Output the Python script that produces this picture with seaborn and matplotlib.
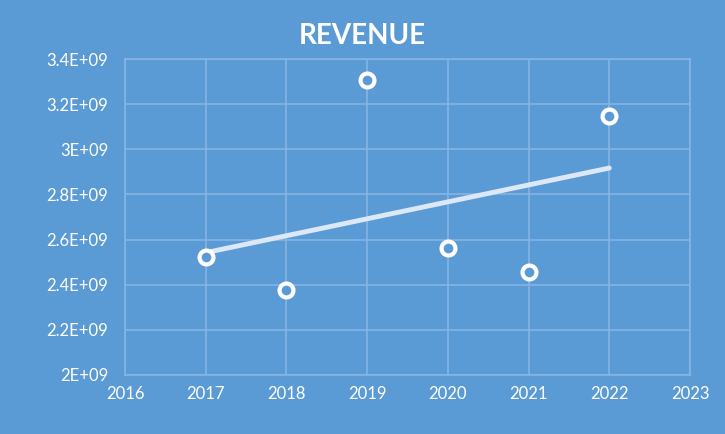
import matplotlib
matplotlib.use("Agg")
import matplotlib.pyplot as plt
import seaborn as sns
import numpy as np
import pandas as pd
from matplotlib.ticker import FuncFormatter

years = [2017, 2018, 2019, 2020, 2021, 2022]
revenue = [2.523e9, 2.377e9, 3.308e9, 2.563e9, 2.457e9, 3.149e9]
x_ticks = [2016, 2017, 2018, 2019, 2020, 2021, 2022, 2023]
y_ticks = [2.0e9, 2.2e9, 2.4e9, 2.6e9, 2.8e9, 3.0e9, 3.2e9, 3.4e9]
title = "REVENUE"

df = pd.DataFrame({"year": years, "revenue": revenue})

bg = "#5B9BD5"
grid_c = "#85B5E4"
sns.set_theme(style="white")
plt.rcParams["font.family"] = ["Lato", "DejaVu Sans"]

fig = plt.figure(figsize=(7.25, 4.34), dpi=100, facecolor=bg)
ax = fig.add_axes([0.1724, 0.136, 0.7793, 0.728])
ax.set_facecolor(bg)

sns.regplot(data=df, x="year", y="revenue", ci=None, ax=ax,
            scatter_kws=dict(s=100, facecolor=bg, edgecolor="white", linewidths=3, alpha=1, zorder=4),
            line_kws=dict(color="#DCE8F6", linewidth=3.5, solid_capstyle="round", zorder=3))

ax.set_xlim(2016, 2023)
ax.set_ylim(2.0e9, 3.4e9)
ax.set_xticks(x_ticks)
ax.set_yticks(y_ticks)

def fmt(v, pos):
    m = v / 1e9
    s = ("%.1f" % m).rstrip("0").rstrip(".")
    return s + "E+09"

ax.yaxis.set_major_formatter(FuncFormatter(fmt))
ax.set_xlabel("")
ax.set_ylabel("")
ax.grid(True, color=grid_c, linewidth=1.2, zorder=0)
ax.set_axisbelow(True)
for s in ax.spines.values():
    s.set_color(grid_c)
    s.set_linewidth(1.2)
ax.tick_params(axis="both", length=0, colors="white", labelsize=12, pad=8)
ax.tick_params(axis="y", pad=12)

fig.text(0.5, 0.918, title, ha="center", va="center", color="white",
         fontsize=20, fontweight="bold")

fig.savefig("out.png", dpi=100, facecolor=bg)
